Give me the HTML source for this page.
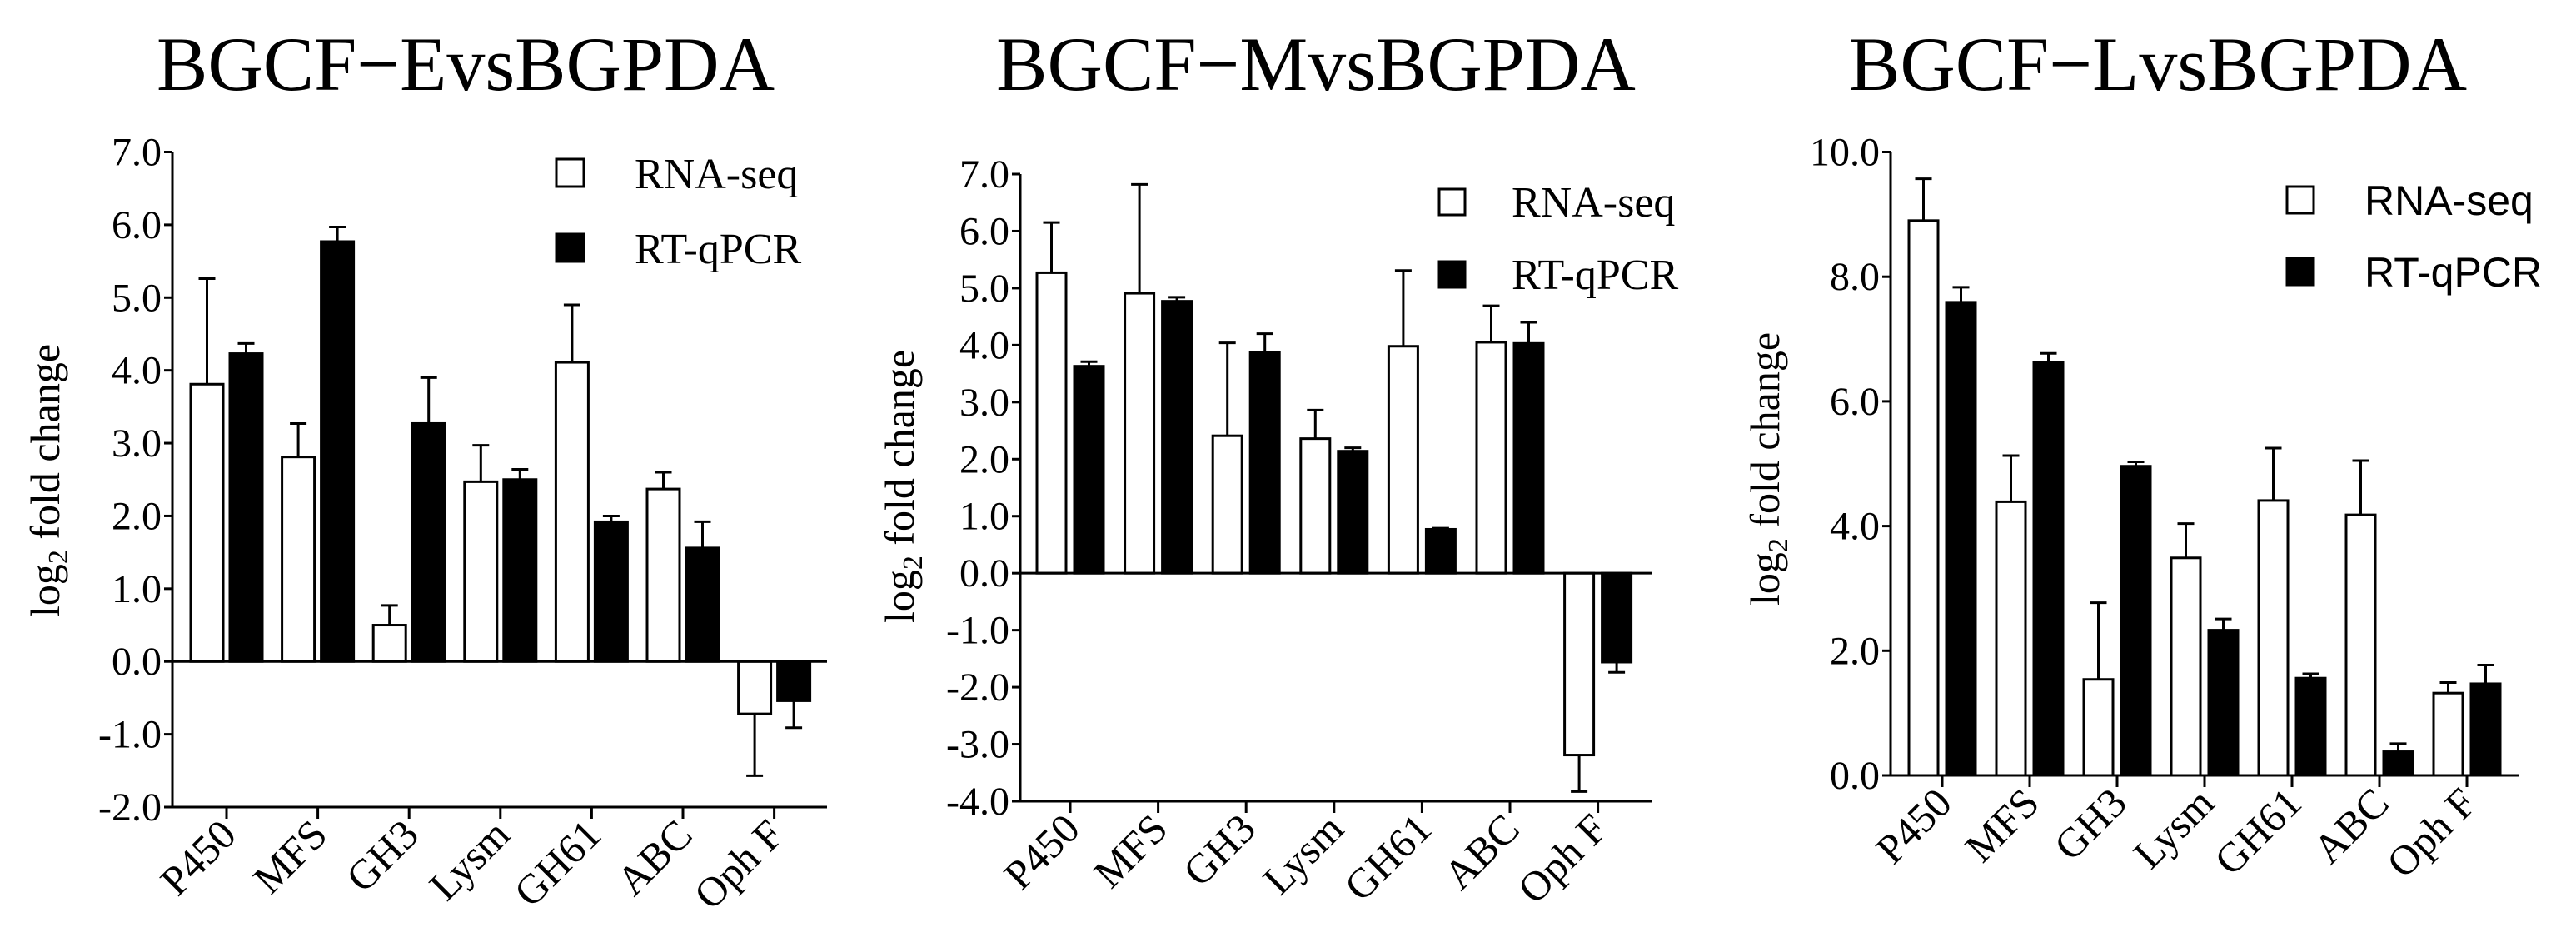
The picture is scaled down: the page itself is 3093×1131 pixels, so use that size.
<!DOCTYPE html>
<html><head><meta charset="utf-8"><style>
html,body{margin:0;padding:0;background:#fff;}
svg{display:block;font-family:"Liberation Serif",serif;}
</style></head><body>
<svg id="chart" width="3093" height="1131" viewBox="0 0 3093 1131" xmlns="http://www.w3.org/2000/svg" font-family="Liberation Serif, serif"></svg>
<script>
const categories = ["P450","MFS","GH3","Lysm","GH61","ABC","Oph F"];
const seriesNames = ["RNA-seq","RT-qPCR"];
const titles = ["BGCF\u2212EvsBGPDA","BGCF\u2212MvsBGPDA","BGCF\u2212LvsBGPDA"];
const rnaE = [3.81,2.81,0.50,2.47,4.11,2.37,-0.72];
const rnaEErr = [5.26,3.27,0.77,2.97,4.90,2.60,-1.57];
const qpcrE = [4.23,5.77,3.27,2.50,1.92,1.56,-0.54];
const qpcrEErr = [4.37,5.97,3.90,2.64,2.00,1.92,-0.91];
const rnaM = [5.27,4.91,2.41,2.36,3.98,4.05,-3.19];
const rnaMErr = [6.15,6.82,4.04,2.86,5.31,4.69,-3.83];
const qpcrM = [3.63,4.77,3.88,2.14,0.77,4.03,-1.56];
const qpcrMErr = [3.71,4.84,4.20,2.20,0.79,4.40,-1.74];
const rnaL = [8.90,4.39,1.54,3.49,4.41,4.18,1.32];
const rnaLErr = [9.57,5.13,2.77,4.04,5.25,5.05,1.49];
const qpcrL = [7.59,6.62,4.96,2.33,1.56,0.38,1.47];
const qpcrLErr = [7.83,6.77,5.03,2.51,1.63,0.51,1.77];
const ticksE = [-2,-1,0,1,2,3,4,5,6,7];
const ticksM = [-4,-3,-2,-1,0,1,2,3,4,5,6,7];
const ticksL = [0,2,4,6,8,10];

const svg = document.getElementById('chart');
const NS = 'http://www.w3.org/2000/svg';
function mk(tag, attrs, parent){
  const e = document.createElementNS(NS, tag);
  for (const k in attrs) e.setAttribute(k, attrs[k]);
  (parent||svg).appendChild(e);
  return e;
}
const panels = [
  {title:titles[0], tx:559, x0:207, x1:993, yTop:182.5, yBot:969, ymin:-2, ymax:7, ticks:ticksE, first:272, step:109.6, bw:39, gap:8,
   rna:rnaE, rnaErr:rnaEErr, q:qpcrE, qErr:qpcrEErr, legX:668, legY1:191, legY2:281, legSq:33, legTx:762, sans:false, ytx:54, yty:577, name:'early'},
  {title:titles[1], tx:1580, x0:1225, x1:1983, yTop:209, yBot:962, ymin:-4, ymax:7, ticks:ticksM, first:1285, step:105.6, bw:35, gap:10,
   rna:rnaM, rnaErr:rnaMErr, q:qpcrM, qErr:qpcrMErr, legX:1728, legY1:227, legY2:314, legSq:31, legTx:1815, sans:false, ytx:1080, yty:584, name:'mid'},
  {title:titles[2], tx:2591, x0:2270, x1:3024, yTop:182.5, yBot:931, ymin:0, ymax:10, ticks:ticksL, first:2332, step:105, bw:35, gap:10,
   rna:rnaL, rnaErr:rnaLErr, q:qpcrL, qErr:qpcrLErr, legX:2746, legY1:224, legY2:310, legSq:32, legTx:2839, sans:true, ytx:2119, yty:563, name:'late'}
];
panels.forEach(p=>{
  const g = mk('g',{});
  
  
  const y = v => p.yBot - (v - p.ymin) * (p.yBot - p.yTop) / (p.ymax - p.ymin);
  const t = mk('text',{x:p.tx, y:108, 'font-size':92, 'text-anchor':'middle'}, g);
  t.textContent = p.title;
  
  
  categories.forEach((c,i)=>{
    const cx = p.first + i*p.step;
    const pairs = [[p.rna[i], p.rnaErr[i], '#fff', cx - p.gap/2 - p.bw, 'rna-seq'], [p.q[i], p.qErr[i], '#000', cx + p.gap/2, 'rt-qpcr']];
    pairs.forEach(([v,e,fill,bx,nm])=>{
      const mid = bx + p.bw/2;
      const el = mk('line',{x1:mid, x2:mid, y1:y(v), y2:y(e), stroke:'#000','stroke-width':3}, g);
      
      
      const cap = mk('line',{x1:mid-10, x2:mid+10, y1:y(e), y2:y(e), stroke:'#000','stroke-width':3}, g);
      
      
      const top = Math.min(y(v), y(0)), h = Math.abs(y(v)-y(0));
      const r = mk('rect',{x:bx, y:top, width:p.bw, height:h, fill:fill, stroke:'#000','stroke-width':3}, g);
      
      
    });
    const tk = mk('line',{x1:cx, x2:cx, y1:p.yBot, y2:p.yBot+14, stroke:'#000','stroke-width':3}, g);
    
    
    const lb = mk('text',{x:0, y:0, 'font-size':50, 'text-anchor':'end', transform:`translate(${cx+14},${p.yBot+36}) rotate(-45)`}, g);
    lb.textContent = c;
    
    
  });
  const ya = mk('line',{x1:p.x0, x2:p.x0, y1:p.yTop, y2:p.yBot, stroke:'#000','stroke-width':3}, g);
  
  
  const xa = mk('line',{x1:p.x0, x2:p.x1, y1:y(Math.max(0,p.ymin)), y2:y(Math.max(0,p.ymin)), stroke:'#000','stroke-width':3}, g);
  
  
  if (p.ymin < 0) {
    const bl = mk('line',{x1:p.x0, x2:p.x1, y1:p.yBot, y2:p.yBot, stroke:'#000','stroke-width':3}, g);
    
    
  }
  p.ticks.forEach(v=>{
    const tl = mk('line',{x1:p.x0-10, x2:p.x0, y1:y(v), y2:y(v), stroke:'#000','stroke-width':3}, g);
    
    
    const tt = mk('text',{x:p.x0-13, y:y(v)+16, 'font-size':48, 'text-anchor':'end'}, g);
    tt.textContent = v.toFixed(1);
    
    
  });
  const yt = mk('text',{x:0, y:0, 'font-size':50, 'text-anchor':'middle', 'font-family':'"Liberation Serif", serif', transform:`translate(${p.ytx+17},${p.yty}) rotate(-90)`}, g);
  yt.innerHTML = 'log<tspan font-size="34" dy="10">2</tspan><tspan dy="-10"> fold change</tspan>';
  
  
  [[p.legY1,'#fff',seriesNames[0]],[p.legY2,'#000',seriesNames[1]]].forEach(([ly,f,nm])=>{
    const sq = mk('rect',{x:p.legX, y:ly, width:p.legSq, height:p.legSq, fill:f, stroke:'#000','stroke-width':3}, g);
    
    
    const lt = mk('text',{x:p.legTx, y:ly+p.legSq+2, 'font-size':p.sans?50:52}, g);
    lt.setAttribute('font-family', p.sans ? '"Liberation Sans", sans-serif' : '"Liberation Serif", serif');
    lt.textContent = nm;
    
    
  });
});
</script>
</body></html>
